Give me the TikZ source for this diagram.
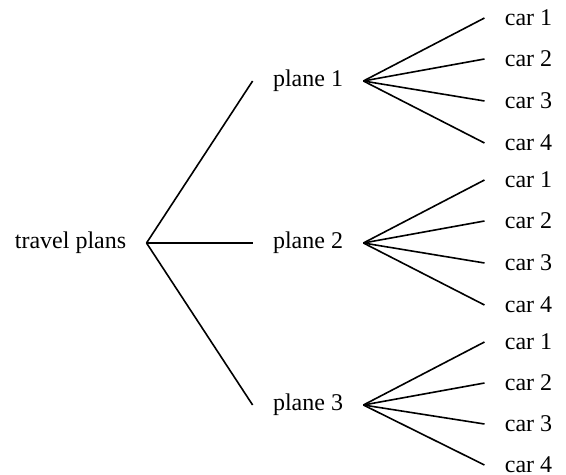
\documentclass[tikz,border=0pt]{standalone}
\usepackage{fontspec}
\setmainfont{Liberation Serif}
\usepackage{tikz}

\begin{document}
\begin{tikzpicture}[x=0.5pt,y=-0.5pt,
	lbl/.style={font=\fontsize{12}{14}\selectfont,inner xsep=10pt,inner ysep=0pt},
	branch/.style={thick,black}]
	\useasboundingbox (0,0) rectangle (566,475);
	\node[lbl] (plans) at (70.5,243) {travel plans};
	\node[lbl] (plane1) at (308,81) {plane 1};
	\node[lbl] (plane2) at (308,243) {plane 2};
	\node[lbl] (plane3) at (308,405) {plane 3};
	% cars of plane 1
	\node[lbl] (car11) at (528.5,18) {car 1};
	\node[lbl] (car12) at (528.5,59) {car 2};
	\node[lbl] (car13) at (528.5,101) {car 3};
	\node[lbl] (car14) at (528.5,143) {car 4};
	% cars of plane 2
	\node[lbl] (car21) at (528.5,180) {car 1};
	\node[lbl] (car22) at (528.5,221) {car 2};
	\node[lbl] (car23) at (528.5,263) {car 3};
	\node[lbl] (car24) at (528.5,305) {car 4};
	% cars of plane 3
	\node[lbl] (car31) at (528.5,342) {car 1};
	\node[lbl] (car32) at (528.5,383) {car 2};
	\node[lbl] (car33) at (528.5,424) {car 3};
	\node[lbl] (car34) at (528.5,465) {car 4};
	\draw[branch] (plans.east) -- (plane1.west);
	\draw[branch] (plans.east) -- (plane2.west);
	\draw[branch] (plans.east) -- (plane3.west);
	\draw[branch] (plane1.east) -- (car11.west);
	\draw[branch] (plane1.east) -- (car12.west);
	\draw[branch] (plane1.east) -- (car13.west);
	\draw[branch] (plane1.east) -- (car14.west);
	\draw[branch] (plane2.east) -- (car21.west);
	\draw[branch] (plane2.east) -- (car22.west);
	\draw[branch] (plane2.east) -- (car23.west);
	\draw[branch] (plane2.east) -- (car24.west);
	\draw[branch] (plane3.east) -- (car31.west);
	\draw[branch] (plane3.east) -- (car32.west);
	\draw[branch] (plane3.east) -- (car33.west);
	\draw[branch] (plane3.east) -- (car34.west);
\end{tikzpicture}
\end{document}
